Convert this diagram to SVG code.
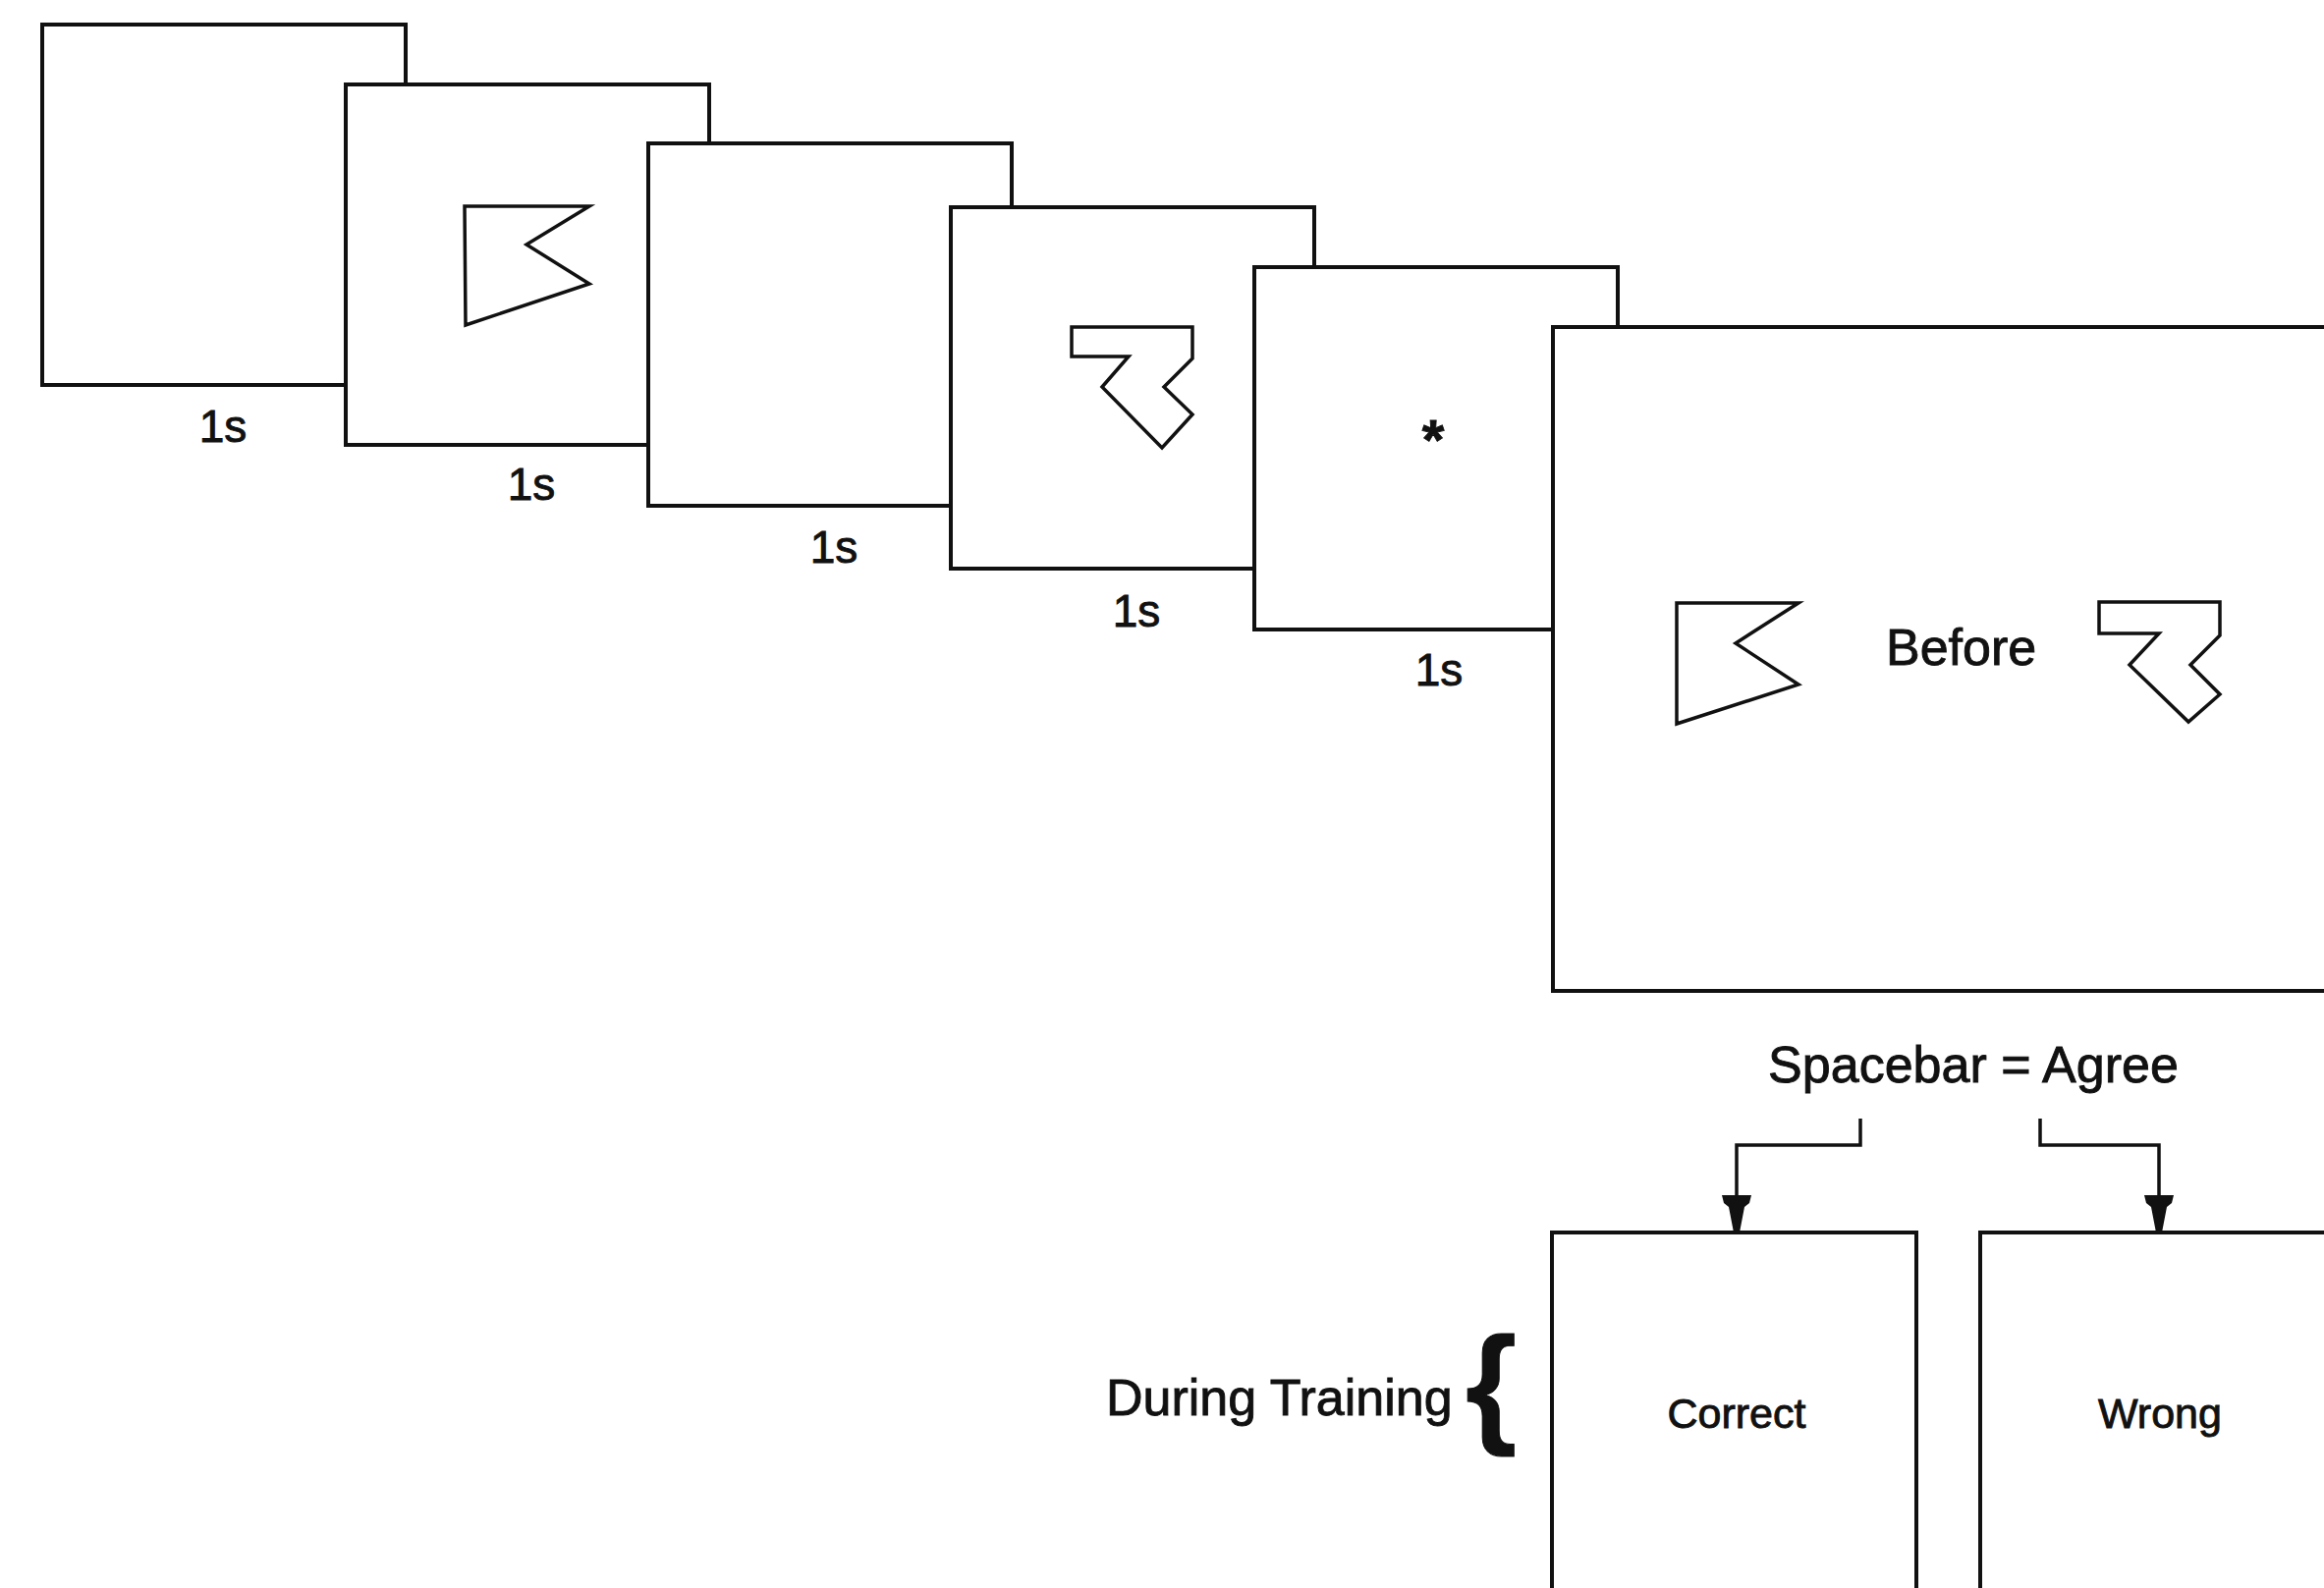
<svg xmlns="http://www.w3.org/2000/svg" width="2366" height="1617" viewBox="0 0 2366 1617">
<style>
.box{fill:#fff;stroke:#111;stroke-width:4}
.shape{fill:#fff;stroke:#111;stroke-width:3.5;stroke-linejoin:miter}
.conn{fill:none;stroke:#111;stroke-width:3.5}
text{font-family:"Liberation Sans",Arial,sans-serif;fill:#111;stroke:#111;stroke-width:0.9}
.t1s{font-size:46px;text-anchor:middle}
.big{font-size:52px}
.small{font-size:43px;text-anchor:middle}
</style>
<defs>
<marker id="arr" markerUnits="userSpaceOnUse" viewBox="0 -15 38 30" markerWidth="38" markerHeight="30" refX="38" refY="0" orient="auto">
<path d="M0,-15 L8,-13 L12,-8 L38,-3 L38,3 L12,8 L8,13 L0,15 Z" fill="#111"/>
</marker>
</defs>
<rect width="2366" height="1617" fill="#fff"/>
<g id="frame1">
<rect class="box" x="43" y="25" width="370" height="367"/>
<text class="t1s" x="227" y="450">1s</text>
</g>
<g id="frame2">
<rect class="box" x="352" y="86" width="370" height="367"/>
<polygon class="shape" points="473,210 600,210 536,249 600,289 474,331"/>
<text class="t1s" x="541" y="509">1s</text>
</g>
<g id="frame3">
<rect class="box" x="660" y="146" width="370" height="369"/>
<text class="t1s" x="849" y="573">1s</text>
</g>
<g id="frame4">
<rect class="box" x="968" y="211" width="370" height="368"/>
<polygon class="shape" points="1091,333 1214,333 1214,365 1185,394 1214,422 1183,456 1122,394 1149,363 1091,363"/>
<text class="t1s" x="1157" y="638">1s</text>
</g>
<g id="frame5">
<rect class="box" x="1277" y="272" width="370" height="369"/>
<text x="1459" y="468" style="font-size:58px;font-weight:bold;text-anchor:middle">*</text>
<text class="t1s" x="1465" y="698">1s</text>
</g>
<g id="choice">
<rect class="box" x="1581" y="333" width="840" height="676"/>
<polygon class="shape" points="1707,614 1831,614 1767,655 1831,697 1707,737"/>
<text class="big" x="1920" y="677">Before</text>
<polygon class="shape" points="2137,613 2260,613 2260,647 2230,677 2260,707 2228,735 2168,677 2198,645 2137,645"/>
</g>
<g id="response">
<text class="big" x="2009" y="1102" text-anchor="middle">Spacebar = Agree</text>
</g>
<g id="connectors">
<polyline class="conn" points="1894,1139 1894,1166 1768,1166 1768,1255" marker-end="url(#arr)"/>
<polyline class="conn" points="2077,1139 2077,1166 2198,1166 2198,1255" marker-end="url(#arr)"/>
</g>
<g id="training-label">
<text class="big" x="1126" y="1441">During Training</text>
<text x="1492" y="1455" style="font-size:134px;font-weight:bold">{</text>
</g>
<g id="correct">
<rect class="box" x="1580" y="1255" width="371" height="420"/>
<text class="small" x="1768" y="1454">Correct</text>
</g>
<g id="wrong">
<rect class="box" x="2016" y="1255" width="420" height="420"/>
<text class="small" x="2199" y="1454">Wrong</text>
</g>
</svg>
